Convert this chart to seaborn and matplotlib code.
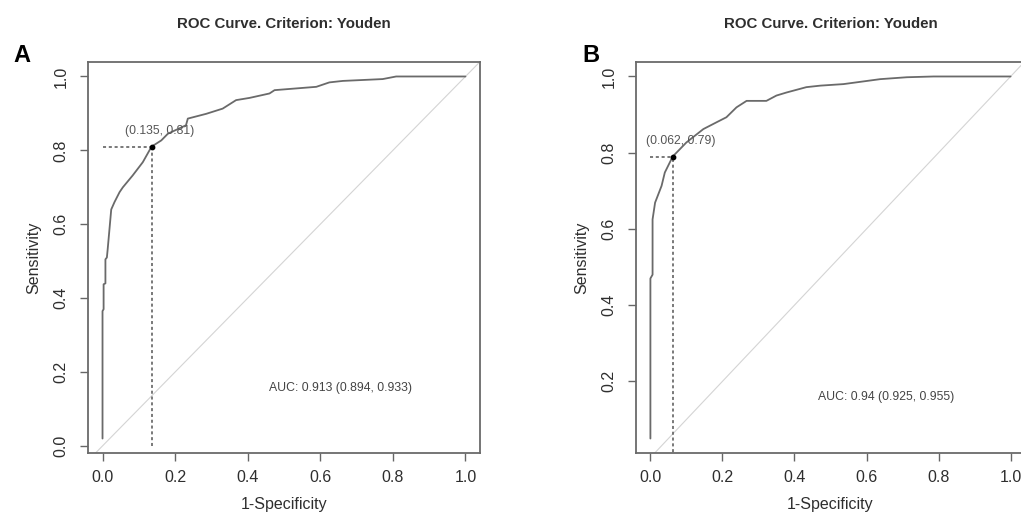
import numpy as np
import pandas as pd
import matplotlib
matplotlib.use("Agg")
import matplotlib.pyplot as plt
import seaborn as sns

# ---- data ----
fpr_a = [0, 0, 0.003, 0.003, 0.008, 0.008, 0.012, 0.014, 0.024, 0.033, 0.047, 0.056,
         0.083, 0.111, 0.135, 0.162, 0.18, 0.23, 0.235, 0.286, 0.331, 0.368, 0.405,
         0.46, 0.474, 0.589, 0.625, 0.662, 0.772, 0.809, 1.0]
sens_a = [0.02, 0.365, 0.37, 0.4375, 0.44, 0.505, 0.51, 0.53, 0.64, 0.66, 0.687, 0.70,
          0.732, 0.768, 0.81, 0.827, 0.845, 0.868, 0.886, 0.899, 0.913, 0.936, 0.942,
          0.954, 0.963, 0.972, 0.984, 0.988, 0.993, 1.0, 1.0]
fpr_b = [0, 0, 0.006, 0.006, 0.013, 0.031, 0.04, 0.062, 0.1, 0.147, 0.184, 0.211,
         0.239, 0.267, 0.322, 0.35, 0.378, 0.433, 0.472, 0.536, 0.638, 0.712, 0.786, 1.0]
sens_b = [0.05, 0.47, 0.48, 0.625, 0.669, 0.713, 0.748, 0.79, 0.827, 0.862, 0.88, 0.893,
          0.919, 0.936, 0.936, 0.95, 0.958, 0.972, 0.976, 0.98, 0.993, 0.998, 1.0, 1.0]

panel_letters = ["A", "B"]
cut_points = [(0.135, 0.81), (0.062, 0.79)]
cut_labels = ["(0.135, 0.81)", "(0.062, 0.79)"]
auc_labels = ["AUC: 0.913 (0.894, 0.933)", "AUC: 0.94 (0.925, 0.955)"]
title = "ROC Curve. Criterion: Youden"
xlabel = "1-Specificity"
ylabel = "Sensitivity"
x_ticks = [0.0, 0.2, 0.4, 0.6, 0.8, 1.0]
y_ticks_a = [0.0, 0.2, 0.4, 0.6, 0.8, 1.0]
y_ticks_b = [0.2, 0.4, 0.6, 0.8, 1.0]

sns.set_theme(style="ticks")
plt.rcParams["font.family"] = ["Liberation Sans", "DejaVu Sans"]

fig = plt.figure(figsize=(10.21, 5.15), dpi=100)
W, H = 1021, 515
boxes = [(88, 62, 480, 453), (636, 62, 1025, 453)]

curves = [(fpr_a, sens_a, y_ticks_a), (fpr_b, sens_b, y_ticks_b)]

txt_col = "#2e2e2e"
for i, ((l, t, r, b), (fx, sy, yt)) in enumerate(zip(boxes, curves)):
    ax = fig.add_axes([l / W, 1 - b / H, (r - l) / W, (b - t) / H])
    df = pd.DataFrame({"fpr": fx, "sens": sy})
    ax.axline((0, 0), (1, 1), color="#d4d4d4", lw=0.8, zorder=1)
    sns.lineplot(data=df, x="fpr", y="sens", sort=False, estimator=None,
                 color="#6a6a6a", lw=1.3, ax=ax, zorder=3)
    cx, cy = cut_points[i]
    ax.plot([0, cx], [cy, cy], color="#555555", lw=1.1, ls=(0, (2.0, 1.8)), zorder=2)
    ax.plot([cx, cx], [0, cy], color="#555555", lw=1.1, ls=(0, (2.0, 1.8)), zorder=2)
    ax.scatter([cx], [cy], s=10, color="black", zorder=4)
    ax.annotate(cut_labels[i], (cx, cy), xytext=(6, 7), textcoords="offset points",
                ha="center", va="bottom", fontsize=8.8, color="#555555")
    ax.text(0.655, 0.158, auc_labels[i], ha="center", va="center",
            fontsize=8.8, color="#444444")
    ymin, ymax = min(sy), max(sy)
    ax.set_xlim(-0.04, 1.04)
    ax.set_ylim(ymin - 0.04 * (ymax - ymin), ymax + 0.04 * (ymax - ymin))
    ax.set_xticks(x_ticks)
    ax.set_xticklabels([f"{v:.1f}" for v in x_ticks])
    ax.set_yticks(yt)
    ax.set_yticklabels([f"{v:.1f}" for v in yt])
    ax.tick_params(axis="both", length=6, width=1.0, color="#666666",
                   labelsize=11.5, labelcolor=txt_col, pad=6)
    ax.tick_params(axis="y", labelrotation=90, pad=8)
    for lbl in ax.get_yticklabels():
        lbl.set_va("center")
    for s in ax.spines.values():
        s.set_color("#6a6a6a")
        s.set_linewidth(1.3)
    ax.set_xlabel(xlabel, fontsize=11.5, color=txt_col, labelpad=9)
    ax.set_ylabel(ylabel, fontsize=11.5, color=txt_col, labelpad=9)
    cxp = (l + r) / 2 / W
    fig.text(cxp, 1 - 24 / H, title, ha="center", va="center", fontsize=10.8,
             fontweight="bold", color=txt_col)
    lx = [22, 591][i]
    fig.text(lx / W, 1 - 55 / H, panel_letters[i], ha="center", va="center",
             fontsize=17, fontweight="bold", color="black")

fig.savefig("out.png", dpi=100)
